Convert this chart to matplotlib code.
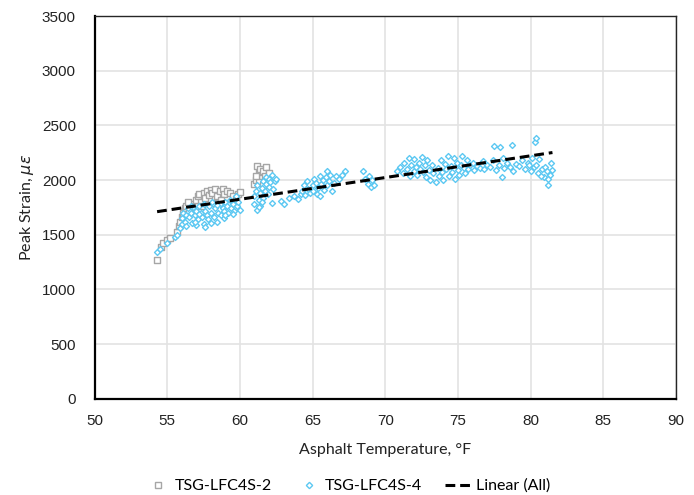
import matplotlib
matplotlib.use("Agg")
import matplotlib.pyplot as plt
from matplotlib.lines import Line2D

# Peak strain vs. asphalt temperature for two gauges
lfc4s2_temp = [54.3, 54.6, 54.7, 55.0, 55.2, 55.7, 55.8, 55.9, 56.0, 56.1,
               56.2, 56.3, 56.5, 56.7, 56.9, 57.0, 57.1, 57.2, 57.3, 57.5,
               57.6, 57.7, 57.9, 58.0, 58.1, 58.3, 58.4, 58.6, 58.8, 58.9,
               59.1, 59.3, 59.5, 59.7, 59.9, 60.0, 56.4, 57.4, 58.2, 58.7,
               61.0, 61.1, 61.2, 61.3, 61.4, 61.5, 61.6, 61.7, 61.8, 61.9,
               61.3, 61.6, 62.0, 61.1]
lfc4s2_strain = [1270, 1390, 1420, 1450, 1470, 1520, 1580, 1620, 1660, 1700,
                 1740, 1760, 1720, 1780, 1760, 1820, 1850, 1870, 1800, 1880,
                 1840, 1900, 1860, 1910, 1880, 1920, 1850, 1900, 1920, 1870,
                 1900, 1880, 1850, 1830, 1870, 1890, 1800, 1760, 1790, 1820,
                 1960, 2000, 2130, 2060, 2100, 2020, 2080, 2040, 2120, 2000,
                 1980, 1950, 2060, 2040]

lfc4s4_temp = [54.3, 54.5, 55.0, 55.5, 55.7, 55.9, 56.0, 56.0, 56.1, 56.2,
               56.3, 56.4, 56.5, 56.6, 56.7, 56.8, 56.9, 57.0, 57.0, 57.1,
               57.2, 57.3, 57.4, 57.5, 57.5, 57.6, 57.7, 57.8, 57.9, 58.0,
               58.1, 58.2, 58.3, 58.4, 58.5, 58.6, 58.7, 58.8, 58.9, 59.0,
               59.1, 59.2, 59.3, 59.4, 59.5, 59.6, 59.7, 59.8, 59.9, 60.0,
               56.3, 56.9, 57.6, 58.0, 58.9, 59.5, 56.6, 57.2, 58.4, 59.0,
               61.0, 61.0, 61.1, 61.2, 61.2, 61.3, 61.4, 61.4, 61.5, 61.6,
               61.6, 61.7, 61.8, 61.8, 61.9, 62.0, 62.0, 62.1, 62.2, 62.2,
               62.3, 62.4, 62.5, 61.3, 61.5,
               62.8, 63.0, 63.4, 63.7, 64.0, 64.2, 64.4, 64.6, 64.3, 64.5,
               64.7, 64.8, 65.0, 65.0, 65.1, 65.2, 65.3, 65.4, 65.5, 65.6,
               65.7, 65.8, 65.9, 66.0, 66.1, 66.2, 66.3, 66.5, 66.6, 66.8,
               67.0, 67.2, 65.5, 66.0,
               68.5, 68.6, 68.8, 69.0, 69.1, 68.9, 69.2,
               70.8, 71.0, 71.2, 71.3, 71.5, 71.6, 71.7, 71.8, 72.0, 72.0,
               72.1, 72.2, 72.3, 72.4, 72.5, 72.6, 72.7, 72.8, 72.9, 73.0,
               73.1, 73.2, 73.3, 73.5, 73.6, 73.7, 73.8, 73.9, 74.0, 74.1,
               74.2, 74.3, 74.4, 74.5, 74.6, 74.7, 74.8, 74.9, 75.0, 75.1,
               75.2, 75.3, 75.4, 75.5, 75.6, 75.7, 75.8, 76.0, 76.1, 76.3,
               76.5, 76.7, 76.8, 77.0, 77.2,
               77.4, 77.5, 77.6, 77.8, 77.9, 78.0, 78.1, 78.2, 78.4, 78.6,
               78.7, 78.8, 79.0, 79.2,
               79.4, 79.6, 79.8, 80.0, 80.1, 80.2, 80.3, 80.4, 80.4, 80.5,
               80.6, 80.8, 80.9, 81.0, 81.1, 81.2, 81.3, 81.4, 81.5, 79.9,
               80.7, 81.2]
lfc4s4_strain = [1340, 1370, 1420, 1480, 1500, 1560, 1600, 1650, 1700, 1620,
                 1680, 1740, 1660, 1700, 1610, 1750, 1680, 1720, 1590, 1640,
                 1760, 1700, 1660, 1600, 1780, 1720, 1680, 1640, 1760, 1700,
                 1800, 1660, 1740, 1620, 1700, 1780, 1680, 1740, 1720, 1800,
                 1760, 1700, 1820, 1740, 1780, 1720, 1850, 1760, 1800, 1730,
                 1580, 1620, 1570, 1610, 1650, 1690, 1760, 1690, 1770, 1680,
                 1850, 1780, 1900, 1730, 1950, 1820, 1880, 1760, 1930, 1990,
                 1840, 1900, 2030, 1960, 1870, 1940, 2010, 1980, 2050, 1790,
                 1920, 1990, 2010, 1750, 1800,
                 1810, 1780, 1840, 1850, 1830, 1870, 1950, 1990, 1900, 1860,
                 1920, 1880, 1950, 1900, 2010, 1970, 1870, 1930, 2040, 1960,
                 2000, 1910, 2030, 1950, 1990, 2050, 1900, 1970, 2040, 2010,
                 2050, 2080, 1850, 2080,
                 2080, 2010, 1960, 1940, 2000, 2040, 1950,
                 2080, 2120, 2060, 2160, 2100, 2200, 2040, 2140, 2080, 2190,
                 2120, 2050, 2160, 2100, 2210, 2070, 2140, 2030, 2180, 2090,
                 2000, 2140, 2060, 1980, 2110, 2040, 2180, 2070, 2000, 2150,
                 2100, 2220, 2040, 2130, 2070, 2200, 2010, 2160, 2090, 2050,
                 2140, 2220, 2110, 2060, 2180, 2100, 2140, 2160, 2090, 2130,
                 2110, 2170, 2100, 2140, 2120,
                 2180, 2310, 2090, 2140, 2300, 2030, 2200, 2110, 2160, 2120,
                 2320, 2080, 2150, 2130,
                 2180, 2100, 2160, 2080, 2200, 2120, 2350, 2380, 2140, 2060,
                 2190, 2100, 2030, 2120, 2080, 1950, 2050, 2160, 2090, 2140,
                 2040, 2010]

# Linear trendline fitted over all points
trend_slope = 19.88
trend_intercept = 631.0

x_ticks = [50, 55, 60, 65, 70, 75, 80, 85, 90]
y_ticks = [0, 500, 1000, 1500, 2000, 2500, 3000, 3500]

gray = "#A6A6A6"
blue = "#5CC8F2"
tick_font = "Liberation Sans"
title_font = "Lato"

fig = plt.figure(figsize=(6.94, 4.95), dpi=100)
W, H = 694, 495
left, right, top, bottom = 94.6, 676, 16, 398.7
ax = fig.add_axes([left / W, 1 - bottom / H, (right - left) / W, (bottom - top) / H])

ax.scatter(lfc4s2_temp, lfc4s2_strain, marker="s", s=17, facecolors="white",
           edgecolors=gray, linewidths=1.0, zorder=3)
ax.scatter(lfc4s4_temp, lfc4s4_strain, marker="D", s=9, facecolors="white",
           edgecolors=blue, linewidths=1.0, zorder=4)

all_temp = lfc4s2_temp + lfc4s4_temp
tx = [min(all_temp), max(all_temp)]
ty = [trend_intercept + trend_slope * t for t in tx]
ax.plot(tx, ty, color="black", linestyle=(0, (3.2, 1.6)), linewidth=2.2, zorder=5)

ax.set_xlim(50, 90)
ax.set_ylim(0, 3500)
ax.set_xticks(x_ticks)
ax.set_yticks(y_ticks)
ax.grid(True, color="#E3E3E3", linewidth=1.2, zorder=0)
ax.set_axisbelow(True)
ax.tick_params(axis="y", length=0, pad=13.5, labelsize=11, colors="#222222")
ax.tick_params(axis="x", length=0, pad=11, labelsize=11, colors="#222222")
for lab in ax.get_xticklabels() + ax.get_yticklabels():
    lab.set_fontfamily(tick_font)

for side in ["left", "bottom"]:
    ax.spines[side].set_color("black")
    ax.spines[side].set_linewidth(1.6)
for side in ["top", "right"]:
    ax.spines[side].set_color("#262626")
    ax.spines[side].set_linewidth(1.0)

ax.set_xlabel("Asphalt Temperature, °F", fontsize=11.5, family=title_font,
              color="#222222", labelpad=11)
ax.set_ylabel(r"Peak Strain, $\mu\varepsilon$", fontsize=11.5, family=title_font,
              color="#222222", labelpad=4)

handles = [
    Line2D([], [], marker="s", linestyle="none", markersize=4.4,
           markerfacecolor="white", markeredgecolor=gray, markeredgewidth=1.0),
    Line2D([], [], marker="D", linestyle="none", markersize=3.2,
           markerfacecolor="white", markeredgecolor=blue, markeredgewidth=1.0),
    Line2D([], [], color="black", linestyle=(0, (3.2, 1.6)), linewidth=2.2),
]
labels = ["TSG-LFC4S-2", "TSG-LFC4S-4", "Linear (All)"]
fig.legend(handles, labels, loc="center", bbox_to_anchor=(0.5, 1 - 486 / H),
           ncol=3, frameon=False, handlelength=1.75, handletextpad=0.15,
           columnspacing=1.45, prop={"family": title_font, "size": 11.5})

fig.savefig("out.png", dpi=100, facecolor="white")
